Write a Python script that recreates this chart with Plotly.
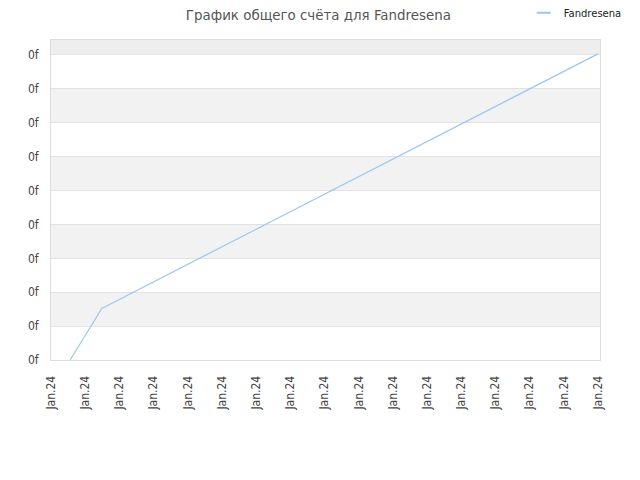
"""
Total score chart for Fandresena (line with striped background).
"""

import plotly.graph_objects as go

TITLE = "График общего счёта для Fandresena"
PLAYER = "Fandresena"
LINE_COLOR = "#99c6f5"
TICK_FONT = dict(family="DejaVu Sans Condensed", size=12, color="#444444")

# x positions are tick indices (every tick reads "Jan.24"), y in score units
score_x = [0.56, 1.49, 1.6, 4.0, 8.0, 12.0, 16.0]
score_y = [0.0, 1.53, 1.58, 2.82, 4.90, 6.97, 9.03]

x_ticks = list(range(17))
x_tick_labels = ["Jan.24"] * len(x_ticks)
y_ticks = list(range(10))
y_tick_labels = ["0f"] * len(y_ticks)

Y_TOP = 9.44
X_RIGHT = 16.06

fig = go.Figure()
fig.add_trace(
    go.Scatter(
        x=score_x,
        y=score_y,
        mode="lines",
        name=PLAYER,
        line=dict(color=LINE_COLOR, width=1.2),
        showlegend=False,
    )
)
# legend entry only: a short dash like the original legend symbol
fig.add_trace(
    go.Scatter(
        x=[None],
        y=[None],
        mode="markers",
        name=PLAYER,
        marker=dict(symbol="line-ew-open", size=10, color=LINE_COLOR,
                    line=dict(color=LINE_COLOR, width=2)),
        showlegend=True,
    )
)

# alternating grey bands behind the grid
shapes = []
for lo in y_ticks:
    hi = min(lo + 1, Y_TOP)
    if lo == y_ticks[-1]:
        fill = "#eeeeee"
    elif lo % 2 == 1:
        fill = "#f2f2f2"
    else:
        continue
    shapes.append(
        dict(type="rect", xref="paper", yref="y", x0=0, x1=1, y0=lo, y1=hi,
             fillcolor=fill, line_width=0, layer="below")
    )

# page body adds ~8px offset, so margins are shifted up/left to compensate
fig.update_layout(
    width=640,
    height=480,
    margin=dict(l=43, r=48, t=32, b=128, autoexpand=False),
    paper_bgcolor="white",
    plot_bgcolor="white",
    font=dict(family="DejaVu Sans", size=10, color="#444444"),
    title=dict(
        text=TITLE,
        x=0.485,
        xanchor="center",
        y=0.985,
        yanchor="middle",
        font=dict(family="DejaVu Sans", size=13.4, color="#555555"),
    ),
    legend=dict(
        x=0.861,
        xanchor="left",
        y=1.085,
        yanchor="middle",
        bgcolor="rgba(0,0,0,0)",
        font=dict(size=10, color="#222222"),
        itemwidth=30,
    ),
    shapes=shapes,
    xaxis=dict(
        range=[0, X_RIGHT],
        tickvals=x_ticks,
        ticktext=x_tick_labels,
        tickangle=-90,
        showgrid=False,
        zeroline=False,
        showline=True,
        linecolor="#dddddd",
        mirror=True,
        ticks="",
        automargin=False,
        ticklabelstandoff=10,
        tickfont=TICK_FONT,
    ),
    yaxis=dict(
        range=[0, Y_TOP],
        tickvals=y_ticks,
        ticktext=y_tick_labels,
        showgrid=True,
        gridcolor="#e2e2e2",
        gridwidth=1,
        zeroline=False,
        showline=True,
        linecolor="#dddddd",
        mirror=True,
        ticks="",
        automargin=False,
        ticklabelstandoff=9,
        tickfont=TICK_FONT,
    ),
)

fig.write_html("out.html")
